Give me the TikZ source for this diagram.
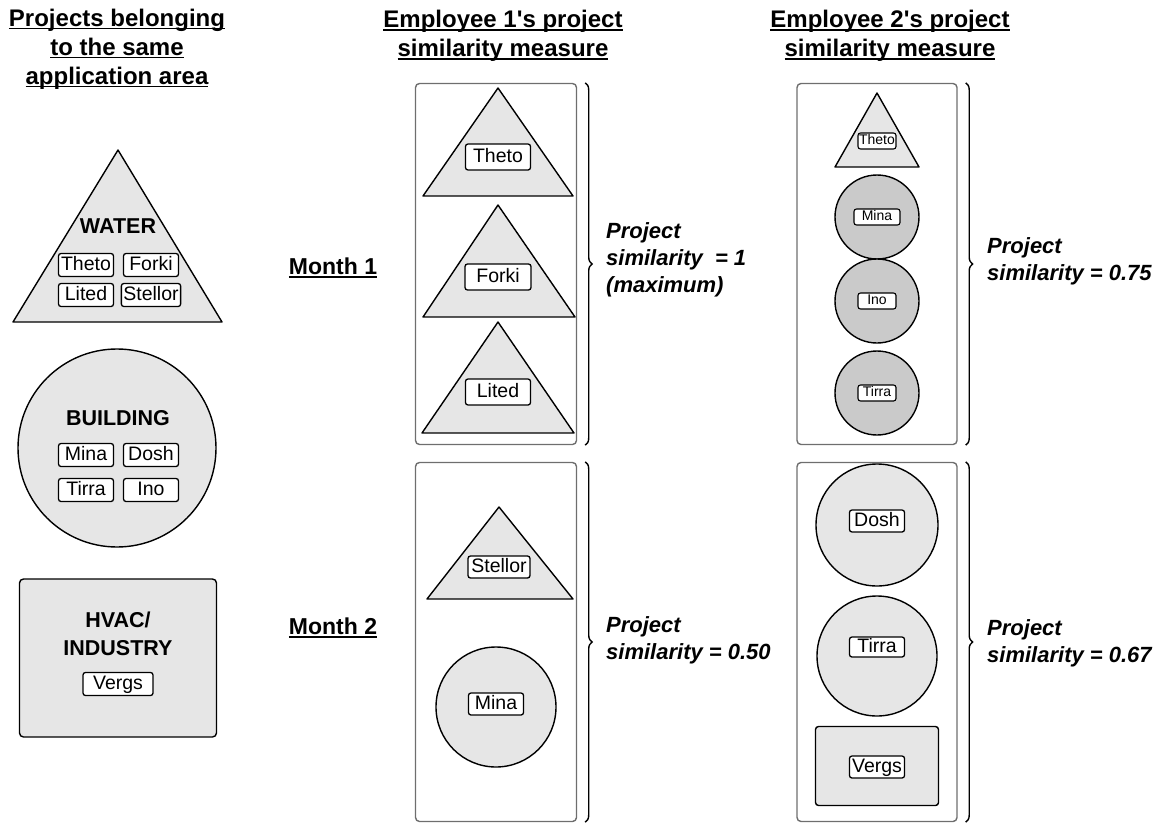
\documentclass[tikz,border=0pt]{standalone}
\usepackage{fontspec}
\setmainfont{Liberation Sans}
\usetikzlibrary{positioning, decorations.pathreplacing}
\definecolor{areafill}{HTML}{E6E6E6}
\definecolor{areadark}{HTML}{CACACA}
\definecolor{panelline}{HTML}{6E6E6E}
\newcommand\undertext[1]{\setbox0\hbox{#1}\rlap{\rule[-3.2pt]{\wd0}{1.5pt}}\box0}
\tikzset{
  area/.style={draw=black, fill=#1, line width=1.4pt, line join=round},
  area/.default=areafill,
  panel/.style={draw=panelline, rounded corners=4pt, line width=1.4pt,
    minimum width=161pt, minimum height=361pt, inner sep=0pt},
  tag/.style={draw=black, fill=white, rounded corners=2.5pt, line width=1.3pt,
    inner xsep=2pt, inner ysep=0pt, minimum width=55pt, minimum height=23pt,
    text height=14pt, text depth=4pt, font=\fontsize{19.5}{20}\selectfont},
  smalltag/.style={tag, line width=1.1pt, inner xsep=1pt, minimum width=38pt,
    minimum height=16pt, text height=10pt, text depth=3pt,
    font=\fontsize{14}{15}\selectfont},
  areaname/.style={font=\bfseries\fontsize{21.5}{28}\selectfont, align=center, inner sep=0pt},
  head/.style={font=\bfseries\fontsize{24}{29}\selectfont, align=center, inner sep=0pt},
  month/.style={font=\bfseries\fontsize{23}{28}\selectfont, inner sep=0pt},
  score/.style={font=\bfseries\itshape\fontsize{22}{27}\selectfont, align=left,
    anchor=west, inner sep=0pt},
  brace/.style={decorate, decoration={brace, amplitude=7pt}, line width=1.4pt}
}
\begin{document}
\begin{tikzpicture}[x=1pt, y=-1pt]
  \useasboundingbox (0,0) rectangle (1170,827);

  % Column headers
  \node[head] (hArea) at (117,49) {\undertext{Projects belonging}\\\undertext{to the same}\\\undertext{application area}};
  \node[head] (hEmpA) at (503,36) {\undertext{Employee 1\textquotesingle s project}\\\undertext{similarity measure}};
  \node[head] (hEmpB) at (890,36) {\undertext{Employee 2\textquotesingle s project}\\\undertext{similarity measure}};

  % Application areas
  \draw[area] (118,150) -- (222,322) -- (13,322) -- cycle;
  \node[areaname] (water) at (118,226) {WATER};
  \node[tag] (wTheto) at (86,265) {Theto};
  \node[tag] (wForki) at (151,265) {Forki};
  \node[tag] (wLited) at (86,295) {Lited};
  \node[tag] (wStellor) at (151,295) {Stellor};

  \node[area, circle, minimum size=198pt] (bld) at (117,448) {};
  \node[areaname] (bldName) at (118,418) {BUILDING};
  \node[tag] (bMina) at (86,455) {Mina};
  \node[tag] (bDosh) at (151,455) {Dosh};
  \node[tag] (bTirra) at (86,490) {Tirra};
  \node[tag] (bIno) at (151,490) {Ino};

  \node[area, rounded corners=4pt, minimum width=197pt, minimum height=158pt] (hvac) at (118,658) {};
  \node[areaname] (hvacName) at (118,634) {HVAC/\\INDUSTRY};
  \node[tag, minimum width=70pt] (hVergs) at (118,684) {Vergs};

  % Months
  \node[month] (mOne) at (333,268) {\undertext{Month 1}};
  \node[month] (mTwo) at (333,628) {\undertext{Month 2}};

  % Panels
  \node[panel] (pA1) at (496,264) {};
  \node[panel, minimum height=359pt] (pA2) at (496,642) {};
  \node[panel, minimum width=160pt] (pB1) at (877,264) {};
  \node[panel, minimum width=160pt, minimum height=359pt] (pB2) at (877,642) {};

  % Employee 1, month 1
  \draw[area] (498,88) -- (573,196) -- (423,196) -- cycle;
  \node[tag, minimum width=65pt, minimum height=26pt] (aTheto) at (498,157) {Theto};
  \draw[area] (498,205) -- (575,317) -- (423,317) -- cycle;
  \node[tag, minimum width=66pt, minimum height=26pt] (aForki) at (498,277) {Forki};
  \draw[area] (498,322) -- (574,433) -- (422,433) -- cycle;
  \node[tag, minimum width=65pt, minimum height=26pt] (aLited) at (498,392) {Lited};

  % Employee 1, month 2
  \draw[area] (499,507) -- (573,599) -- (427,599) -- cycle;
  \node[tag, minimum width=62pt, minimum height=22pt] (aStellor) at (499,567) {Stellor};
  \node[area, circle, minimum size=120pt] (aCirc) at (496,707) {};
  \node[tag, minimum height=22pt] (aMina) at (496,704) {Mina};

  % Employee 2, month 1
  \draw[area] (877,93) -- (919,167) -- (835,167) -- cycle;
  \node[smalltag] (bTheto) at (877,141) {Theto};
  \node[area=areadark, circle, minimum size=84pt] (cMina) at (877,217) {};
  \node[smalltag, minimum width=46pt] (bMinaT) at (877,217) {Mina};
  \node[area=areadark, circle, minimum size=84pt] (cIno) at (877,301) {};
  \node[smalltag] (bInoT) at (877,301) {Ino};
  \node[area=areadark, circle, minimum size=84pt] (cTirra) at (877,393) {};
  \node[smalltag] (bTirraT) at (877,393) {Tirra};

  % Employee 2, month 2
  \node[area, circle, minimum size=122pt] (cDosh) at (877,525) {};
  \node[tag, minimum height=22pt] (dDosh) at (877,521) {Dosh};
  \node[area, circle, minimum size=120pt] (cTirraB) at (877,656) {};
  \node[tag, minimum height=20pt] (dTirra) at (877,647) {Tirra};
  \node[area, rounded corners=3pt, minimum width=123pt, minimum height=79pt] (dBox) at (877,766) {};
  \node[tag, minimum height=22pt] (dVergs) at (877,767) {Vergs};

  % Braces and similarity scores
  \draw[brace] ([xshift=8pt]pA1.north east) -- ([xshift=8pt]pA1.south east);
  \draw[brace] ([xshift=8pt]pA2.north east) -- ([xshift=8pt]pA2.south east);
  \draw[brace] ([xshift=8pt]pB1.north east) -- ([xshift=8pt]pB1.south east);
  \draw[brace] ([xshift=8pt]pB2.north east) -- ([xshift=8pt]pB2.south east);
  \node[score] (sA1) at (606,260) {Project\\similarity\ \ = 1\\(maximum)};
  \node[score] (sA2) at (606,640) {Project\\similarity = 0.50};
  \node[score] (sB1) at (987,261) {Project\\similarity = 0.75};
  \node[score] (sB2) at (987,643) {Project\\similarity = 0.67};
\end{tikzpicture}
\end{document}
